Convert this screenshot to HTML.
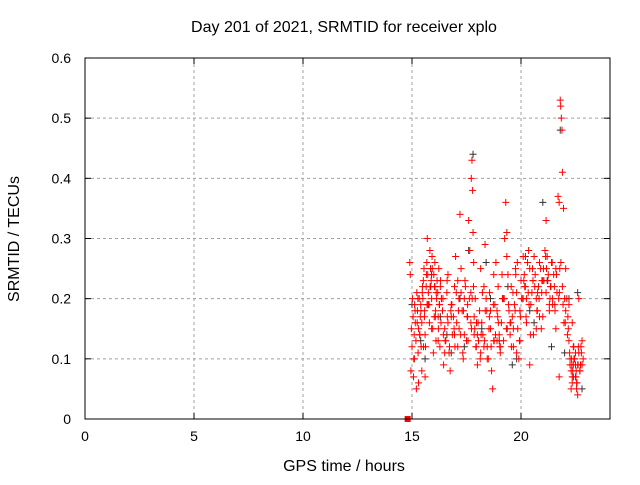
<!DOCTYPE html>
<html><head><meta charset="utf-8"><style>
body{margin:0;background:#fff}
svg text{font-family:"Liberation Sans",sans-serif;font-size:14px;fill:#000}
svg text.big{font-size:16px}
</style></head><body>
<svg id="c" width="640" height="480" xmlns="http://www.w3.org/2000/svg">
<rect width="640" height="480" fill="#fff"/>
<g id="grid"></g>
<g id="pts"></g>
<rect x="85" y="58" width="525" height="361" fill="none" stroke="#000" stroke-width="1"/>
<g id="ticks"></g>
<text class="big" x="344" y="32" text-anchor="middle">Day 201 of 2021, SRMTID for receiver xplo</text>
<text class="big" x="344" y="471" text-anchor="middle">GPS time / hours</text>
<text class="big" transform="translate(19,239) rotate(-90)" text-anchor="middle">SRMTID / TECUs</text>
</svg>
<script>
const xTicks=[0,5,10,15,20];
const yTicks=[0,0.1,0.2,0.3,0.4,0.5,0.6];
const yLabels=["0","0.1","0.2","0.3","0.4","0.5","0.6"];
const redT=[14.9,14.92,14.95,14.97,15.0,15.02,15.05,15.08,15.1,15.12,15.15,15.18,15.2,15.22,15.25,15.28,15.3,15.33,15.35,15.38,15.4,15.42,15.45,15.48,15.5,15.52,15.55,15.58,15.6,15.62,15.65,15.68,15.7,15.72,15.75,15.78,15.8,15.82,15.85,15.88,15.9,15.92,15.95,15.98,16.0,16.03,16.05,16.08,16.1,16.13,16.15,16.18,16.2,16.23,16.25,16.28,16.3,16.33,16.35,16.4,16.45,16.5,16.55,16.6,16.65,16.7,16.75,16.8,16.85,16.9,16.95,17.0,17.05,17.1,17.15,17.2,17.25,17.3,17.35,17.4,17.45,17.5,17.55,17.6,17.65,17.7,17.72,17.75,17.78,17.8,17.82,17.85,17.88,17.9,17.95,18.0,18.05,18.1,18.15,18.2,18.25,18.3,18.35,18.4,18.45,18.5,18.55,18.6,18.65,18.7,18.75,18.8,18.85,18.9,18.95,19.0,19.05,19.1,19.15,19.2,19.25,19.3,19.35,19.4,19.45,19.5,19.55,19.6,19.65,19.7,19.75,19.8,19.85,19.9,19.95,20.0,20.05,20.1,20.15,20.2,20.25,20.3,20.35,20.4,20.45,20.5,20.55,20.6,20.65,20.7,20.75,20.8,20.85,20.9,20.95,21.0,21.05,21.1,21.15,21.2,21.25,21.3,21.35,21.4,21.45,21.5,21.55,21.6,21.65,21.7,21.75,21.78,21.8,21.82,21.85,21.88,21.9,21.95,22.0,22.05,22.1,22.15,22.2,22.25,22.3,22.35,22.4,22.45,22.5,22.55,22.6,22.65,22.7,22.75,22.8,22.85,15.3,15.6,15.9,16.2,16.5,16.8,17.1,17.4,17.7,18.0,18.3,18.6,18.9,19.2,19.5,19.8,20.1,20.4,20.7,21.0,21.3,21.6,21.9,22.2,22.5,22.8,15.45,15.75,16.05,16.35,16.65,16.95,17.25,17.55,17.85,18.15,18.45,18.75,19.05,19.35,19.65,19.95,20.25,20.55,20.85,21.15,21.45,21.75,22.05,22.35,22.65,22.35,22.45,22.55,22.6,22.7,22.4,22.5,22.3,22.25,
15.07,15.14,15.27,15.36,15.47,15.57,15.66,15.74,15.83,15.93,16.02,16.11,16.21,16.31,16.42,16.52,16.62,16.72,16.83,16.93,17.03,17.13,17.23,17.33,17.43,17.53,17.63,17.73,17.83,17.93,18.03,18.13,18.23,18.33,18.43,18.53,18.63,18.73,18.83,18.93,19.03,19.13,19.23,19.33,19.43,19.53,19.63,19.73,19.83,19.93,20.03,20.13,20.23,20.33,20.43,20.53,20.63,20.73,20.83,20.93,21.03,21.13,21.23,21.33,21.43,21.53,21.63,21.73,21.83,21.93,22.03,22.13,22.23,22.33,22.43,22.53,22.63,22.73,
15.11,15.24,15.41,15.53,15.69,15.86,16.07,16.26,16.44,16.61,16.78,16.97,17.16,17.36,17.57,17.76,17.96,18.17,18.36,18.56,18.77,18.96,19.16,19.37,19.56,19.76,19.97,20.17,20.37,20.57,20.76,20.96,21.17,21.37,21.56,21.76,21.97,22.17,22.37,22.57,22.77,22.62,22.42,22.52,22.32];
const redV=[0.26,0.24,0.08,0.15,0.12,0.2,0.17,0.1,0.14,0.19,0.16,0.13,0.05,0.21,0.18,0.11,0.15,0.2,0.14,0.17,0.19,0.12,0.16,0.22,0.2,0.23,0.25,0.18,0.14,0.12,0.22,0.26,0.3,0.24,0.21,0.19,0.16,0.28,0.25,0.23,0.2,0.27,0.15,0.11,0.24,0.22,0.26,0.18,0.13,0.2,0.23,0.21,0.17,0.25,0.19,0.12,0.22,0.16,0.2,0.18,0.09,0.15,0.13,0.21,0.24,0.11,0.08,0.19,0.14,0.17,0.22,0.27,0.16,0.12,0.2,0.34,0.25,0.18,0.1,0.14,0.22,0.13,0.19,0.33,0.28,0.21,0.4,0.43,0.38,0.31,0.22,0.17,0.15,0.2,0.12,0.09,0.13,0.18,0.11,0.16,0.14,0.22,0.29,0.2,0.12,0.1,0.17,0.15,0.08,0.05,0.13,0.19,0.26,0.18,0.22,0.14,0.11,0.16,0.2,0.13,0.3,0.36,0.31,0.24,0.18,0.14,0.22,0.17,0.12,0.19,0.25,0.21,0.15,0.1,0.18,0.23,0.2,0.27,0.24,0.22,0.16,0.26,0.28,0.25,0.19,0.21,0.23,0.27,0.24,0.2,0.18,0.22,0.26,0.25,0.21,0.17,0.23,0.28,0.33,0.27,0.24,0.19,0.22,0.26,0.2,0.24,0.19,0.15,0.21,0.37,0.36,0.25,0.53,0.52,0.5,0.48,0.41,0.35,0.2,0.18,0.2,0.17,0.13,0.09,0.08,0.06,0.12,0.1,0.07,0.05,0.09,0.11,0.08,0.12,0.09,0.1,0.06,0.07,0.15,0.13,0.11,0.17,0.23,0.2,0.16,0.14,0.12,0.18,0.13,0.2,0.16,0.11,0.2,0.09,0.15,0.23,0.18,0.25,0.22,0.19,0.09,0.13,0.08,0.19,0.22,0.2,0.16,0.14,0.21,0.17,0.14,0.25,0.1,0.24,0.12,0.27,0.15,0.13,0.2,0.23,0.17,0.21,0.19,0.07,0.25,0.16,0.2,0.07,0.1,0.06,0.04,0.08,0.09,0.11,0.05,0.1,0.07,
0.18,0.2,0.14,0.21,0.17,0.24,0.19,0.22,0.25,0.17,0.21,0.15,0.23,0.2,0.13,0.17,0.12,0.19,0.15,0.21,0.18,0.14,0.11,0.23,0.17,0.2,0.15,0.26,0.12,0.16,0.1,0.21,0.13,0.18,0.15,0.12,0.19,0.14,0.17,0.12,0.24,0.2,0.15,0.19,0.16,0.21,0.18,0.26,0.13,0.2,0.23,0.17,0.21,0.14,0.25,0.22,0.18,0.2,0.15,0.25,0.27,0.23,0.2,0.26,0.22,0.24,0.2,0.26,0.19,0.16,0.14,0.11,0.09,0.1,0.08,0.12,0.09,0.1,
0.16,0.18,0.12,0.19,0.22,0.17,0.19,0.14,0.23,0.18,0.12,0.15,0.18,0.13,0.2,0.16,0.14,0.18,0.21,0.13,0.16,0.2,0.15,0.12,0.24,0.17,0.22,0.19,0.14,0.21,0.23,0.25,0.22,0.18,0.21,0.16,0.15,0.08,0.06,0.11,0.09,0.12,0.07,0.1,0.08];
const blackT=[15.0,15.4,15.9,16.3,16.8,17.2,17.6,17.8,18.2,18.6,19.0,19.4,19.8,20.2,20.6,21.0,21.4,21.8,22.2,22.6,22.8,15.6,16.6,17.4,18.4,19.6,20.4,21.2,22.0,22.4];
const blackV=[0.19,0.13,0.24,0.17,0.11,0.2,0.28,0.44,0.15,0.2,0.13,0.22,0.1,0.27,0.16,0.36,0.12,0.48,0.2,0.21,0.05,0.1,0.14,0.12,0.26,0.09,0.18,0.23,0.11,0.07];
const X=t=>85+21.8*t, Y=v=>419-601.7*v;
const NS="http://www.w3.org/2000/svg";
function mk(tag,at,parent){const e=document.createElementNS(NS,tag);for(const k in at)e.setAttribute(k,at[k]);parent.appendChild(e);return e;}
const grid=document.getElementById('grid'),ticks=document.getElementById('ticks'),pts=document.getElementById('pts');
xTicks.forEach(t=>{const x=X(t);
 if(t>0){const g=mk('line',{x1:x,x2:x,y1:58,y2:419,stroke:'#a0a0a0','stroke-dasharray':'3,3'},grid);
 
 }
 mk('line',{x1:x,x2:x,y1:419,y2:413,stroke:'#000'},ticks);mk('line',{x1:x,x2:x,y1:58,y2:64,stroke:'#000'},ticks);
 const l=mk('text',{x:x,y:441,'text-anchor':'middle'},ticks);l.textContent=t;
 
 });
yTicks.forEach((v,i)=>{const y=Y(v);
 if(v>0&&v<0.6){const g=mk('line',{x1:85,x2:610,y1:y,y2:y,stroke:'#a0a0a0','stroke-dasharray':'3,3'},grid);
 
 }
 mk('line',{x1:85,x2:91,y1:y,y2:y,stroke:'#000'},ticks);mk('line',{x1:610,x2:604,y1:y,y2:y,stroke:'#000'},ticks);
 const l=mk('text',{x:71,y:y+5,'text-anchor':'end'},ticks);l.textContent=yLabels[i];
 
 });
function plus(t,v,col,name){const x=X(t),y=Y(v);
 const p=mk('path',{d:`M${x-3.5} ${y}h7M${x} ${y-3.5}v7`,stroke:col,'stroke-width':1,fill:'none'},pts);
 
 }
blackT.forEach((t,i)=>plus(t,blackV[i],'#333','black-point'));
redT.forEach((t,i)=>plus(t,redV[i],'#f00','red-point'));
const sq=mk('rect',{x:X(14.8)-3,y:Y(0)-3,width:6,height:6,fill:'#f00'},pts);


</script>
</body></html>
